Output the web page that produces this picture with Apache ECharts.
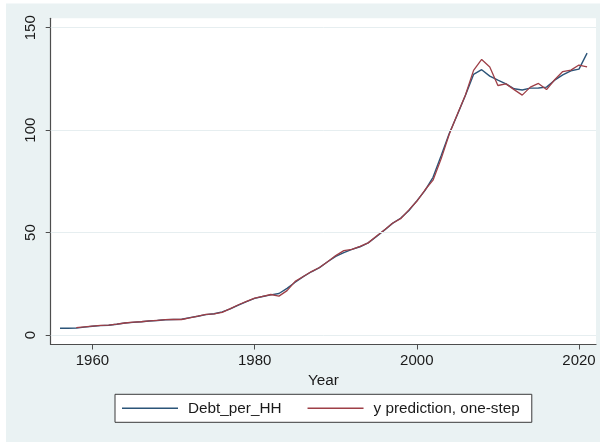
<!DOCTYPE html>
<html>
<head>
<meta charset="utf-8">
<script src="https://cdn.jsdelivr.net/npm/echarts@6/dist/echarts.min.js"></script>
<style>
  html, body { margin: 0; padding: 0; background: #ffffff; }
  #chart { width: 602px; height: 442px; }
</style>
</head>
<body>
<div id="chart"></div>
<script>
// Household debt per household, actual vs. one-step-ahead prediction
const years = [];
for (let y = 1956; y <= 2021; y++) years.push(y);

const debtPerHH = [
  3.3, 3.3, 3.4, 3.9, 4.3, 4.6, 4.8, 5.3, 5.9, 6.2,
  6.5, 6.9, 7.1, 7.5, 7.6, 7.7, 8.5, 9.2, 10.0, 10.4,
  11.3, 12.8, 14.6, 16.3, 17.9, 18.8, 19.6, 20.3, 22.8, 25.8,
  28.5, 30.9, 32.9, 35.8, 38.4, 40.2, 41.8, 43.1, 45.0, 48.0,
  51.2, 54.5, 57.0, 60.7, 65.5, 70.5, 77.0, 87.5, 98.4, 107.5,
  117.0, 127.2, 129.5, 126.4, 124.4, 122.6, 120.2, 119.6, 120.5, 120.6,
  121.0, 124.4, 127.0, 129.0, 129.8, 137.6
];

const predOneStep = [
  null, null, 3.6, 4.0, 4.4, 4.7, 4.9, 5.3, 5.9, 6.3,
  6.5, 6.9, 7.2, 7.5, 7.7, 7.6, 8.4, 9.3, 10.1, 10.3,
  11.1, 12.9, 14.8, 16.4, 18.0, 18.9, 19.8, 19.0, 21.7, 26.2,
  28.6, 31.0, 33.0, 35.8, 38.8, 41.2, 41.8, 43.3, 45.0, 48.2,
  51.3, 54.6, 56.8, 61.0, 65.3, 70.8, 75.6, 86.0, 98.0, 107.8,
  117.2, 129.2, 134.5, 130.8, 121.8, 122.6, 119.8, 117.1, 121.0, 122.8,
  119.8, 124.6, 128.6, 129.3, 131.8, 130.9
];

const xTicks = [1960, 1980, 2000, 2020];
const yTicks = [0, 50, 100, 150];

const seriesNames = ['Debt_per_HH', 'y prediction, one-step'];
const lineColors = ['#2b5478', '#9e3f47'];

const pairs = (vals) => years.map((y, i) => [y, vals[i]]);

const font = 'Liberation Sans, Arial, sans-serif';
const axisColor = '#4d4d4d';
const plain = (v) => String(v);

const chart = echarts.init(document.getElementById('chart'), null, { renderer: 'canvas' });
chart.setOption({
  animation: false,
  backgroundColor: '#ffffff',
  graphic: [{
    type: 'rect',
    z: -10,
    silent: true,
    shape: { x: 6, y: 3.5, width: 594, height: 438.5 },
    style: { fill: '#eaf2f3' }
  }],
  grid: {
    left: 50.7, right: 6, top: 18.3, bottom: 97.5,
    show: true, backgroundColor: '#ffffff', borderWidth: 0
  },
  legend: {
    data: seriesNames,
    left: 115, top: 394.3,
    orient: 'horizontal',
    icon: 'rect',
    itemWidth: 56, itemHeight: 1.4,
    itemGap: 26,
    padding: [6.5, 12, 6.5, 7],
    backgroundColor: '#ffffff',
    borderColor: '#3a3a3a', borderWidth: 1,
    textStyle: { fontFamily: font, fontSize: 15.3, color: '#1a1a1a', padding: [0, 0, 0, 5] }
  },
  xAxis: {
    type: 'value',
    min: 1954.85, max: 2022.1,
    name: 'Year',
    nameLocation: 'middle',
    nameGap: 25.5,
    nameTextStyle: { fontFamily: font, fontSize: 15.3, color: '#1a1a1a' },
    axisLine: { show: true, onZero: false, lineStyle: { color: axisColor, width: 1.2 } },
    axisTick: { show: true, length: 5, customValues: xTicks, lineStyle: { color: axisColor } },
    axisLabel: { customValues: xTicks, formatter: plain, margin: 9, fontFamily: font, fontSize: 15, color: '#1a1a1a' },
    splitLine: { show: false }
  },
  yAxis: {
    type: 'value',
    min: -4.6, max: 154.6,
    axisLine: { show: true, onZero: false, lineStyle: { color: axisColor, width: 1.2 } },
    axisTick: { show: true, length: 5, customValues: yTicks, lineStyle: { color: axisColor } },
    axisLabel: { customValues: yTicks, formatter: plain, rotate: 90, margin: 12, fontFamily: font, fontSize: 15, color: '#1a1a1a' },
    splitLine: { show: false }
  },
  series: [
    {
      // horizontal grid rules at the labelled y values
      type: 'line',
      data: [],
      silent: true,
      z: 1,
      markLine: {
        silent: true,
        symbol: ['none', 'none'],
        label: { show: false },
        lineStyle: { color: '#e6eef0', width: 1, type: 'solid' },
        data: yTicks.map(v => ({ yAxis: v }))
      }
    },
    {
      name: seriesNames[0],
      type: 'line',
      data: pairs(debtPerHH),
      showSymbol: false,
      z: 3,
      lineStyle: { color: lineColors[0], width: 1.4 },
      itemStyle: { color: lineColors[0] }
    },
    {
      name: seriesNames[1],
      type: 'line',
      data: pairs(predOneStep),
      showSymbol: false,
      z: 4,
      lineStyle: { color: lineColors[1], width: 1.3 },
      itemStyle: { color: lineColors[1] }
    }
  ]
});
</script>
</body>
</html>
